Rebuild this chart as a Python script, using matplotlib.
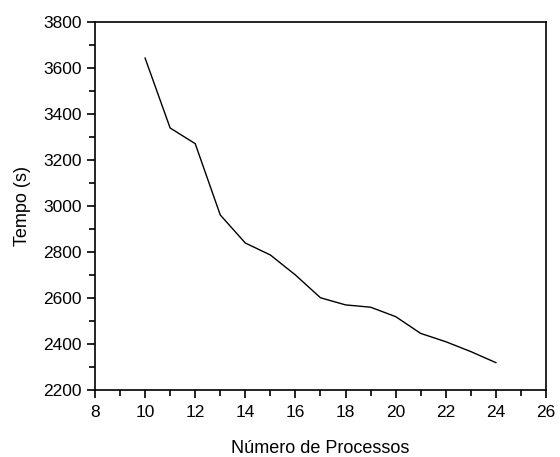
import matplotlib
matplotlib.use("Agg")
import matplotlib.pyplot as plt
from matplotlib.ticker import MultipleLocator

plt.rcParams['font.family'] = ['Liberation Sans', 'DejaVu Sans']

processos = [10, 11, 12, 13, 14, 15, 16, 17, 18, 19, 20, 21, 22, 23, 24]
tempo = [3643, 3339, 3271, 2961, 2839, 2787, 2700, 2601, 2570, 2560, 2519, 2446, 2410, 2367, 2319]

fig = plt.figure(figsize=(5.6, 4.57), dpi=100)
ax = fig.add_axes([0.1696, 0.1466, 0.975 - 0.1696, 0.9519 - 0.1466])
ax.plot(processos, tempo, color='black', linewidth=1.0)
ax.set_xlim(8, 26)
ax.set_ylim(2200, 3800)
ax.xaxis.set_major_locator(MultipleLocator(2))
ax.xaxis.set_minor_locator(MultipleLocator(1))
ax.yaxis.set_major_locator(MultipleLocator(200))
ax.yaxis.set_minor_locator(MultipleLocator(100))
ax.tick_params(which='both', direction='out', top=False, right=False, labelsize=12.5, width=1.2)
ax.tick_params(which='major', length=6)
ax.tick_params(which='minor', length=4)
ax.tick_params(axis='x', which='major', pad=5)
for s in ax.spines.values():
    s.set_linewidth(1.2)
ax.set_xlabel('Número de Processos', fontsize=13, labelpad=14)
ax.set_ylabel('Tempo (s)', fontsize=13, labelpad=9)
fig.savefig('out.png', dpi=100)
